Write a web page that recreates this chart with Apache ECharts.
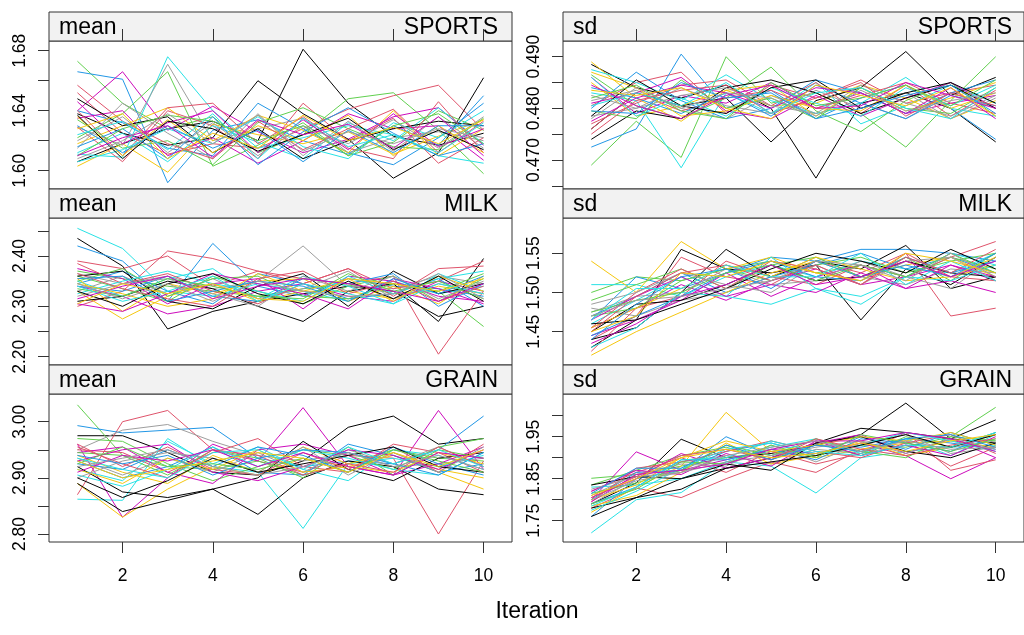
<!DOCTYPE html>
<html><head><meta charset="utf-8">
<script src="https://cdn.jsdelivr.net/npm/echarts@6/dist/echarts.min.js"></script>
<style>html,body{margin:0;padding:0;background:#fff}#c{width:1024px;height:635px}</style>
</head><body><div id="c"></div>
<script>
const iterations = [1,2,3,4,5,6,7,8,9,10];
const chainColors = ['#000000','#DF536B','#61D04F','#2297E6','#28E2E5','#CD0BBC','#F5C710','#9E9E9E'];
const xTicks = [2,4,6,8,10];

const meanSports = [
[1.606,1.618,1.628,1.633,1.620,1.681,1.645,1.623,1.617,1.625],
[1.652,1.625,1.611,1.618,1.615,1.628,1.641,1.650,1.657,1.627],
[1.673,1.645,1.628,1.636,1.612,1.624,1.648,1.652,1.627,1.598],
[1.666,1.661,1.592,1.627,1.634,1.620,1.611,1.630,1.617,1.650],
[1.611,1.609,1.676,1.640,1.615,1.622,1.630,1.624,1.610,1.605],
[1.640,1.666,1.627,1.643,1.626,1.612,1.621,1.636,1.642,1.617],
[1.603,1.618,1.599,1.631,1.624,1.618,1.626,1.611,1.623,1.634],
[1.629,1.617,1.671,1.620,1.628,1.635,1.612,1.622,1.626,1.620],
[1.638,1.625,1.617,1.622,1.660,1.638,1.621,1.595,1.612,1.662],
[1.629,1.606,1.640,1.630,1.608,1.645,1.620,1.635,1.605,1.622],
[1.622,1.638,1.666,1.603,1.617,1.632,1.610,1.619,1.640,1.627],
[1.640,1.632,1.615,1.610,1.645,1.628,1.612,1.604,1.622,1.645],
[1.612,1.625,1.606,1.630,1.619,1.608,1.632,1.620,1.642,1.618],
[1.635,1.640,1.610,1.622,1.605,1.620,1.638,1.628,1.630,1.607],
[1.618,1.630,1.642,1.620,1.637,1.627,1.612,1.640,1.610,1.628],
[1.615,1.645,1.625,1.608,1.638,1.610,1.633,1.613,1.636,1.615],
[1.648,1.630,1.636,1.612,1.628,1.608,1.620,1.628,1.633,1.630],
[1.640,1.610,1.642,1.645,1.618,1.636,1.615,1.608,1.646,1.612],
[1.634,1.615,1.620,1.604,1.632,1.642,1.628,1.616,1.614,1.635],
[1.616,1.628,1.608,1.636,1.604,1.626,1.642,1.625,1.610,1.618],
[1.606,1.614,1.628,1.618,1.636,1.616,1.608,1.632,1.622,1.640],
[1.646,1.618,1.632,1.640,1.612,1.634,1.614,1.638,1.616,1.628],
[1.636,1.610,1.634,1.612,1.630,1.620,1.637,1.610,1.630,1.612],
[1.620,1.636,1.612,1.632,1.610,1.630,1.618,1.634,1.615,1.636],
[1.637,1.608,1.633,1.628,1.613,1.624,1.635,1.614,1.627,1.614],
[1.657,1.633,1.618,1.608,1.633,1.614,1.628,1.641,1.612,1.633],
[1.610,1.628,1.637,1.633,1.620,1.630,1.610,1.630,1.638,1.618],
[1.630,1.612,1.630,1.615,1.627,1.606,1.627,1.612,1.630,1.630],
[1.624,1.633,1.614,1.638,1.608,1.635,1.616,1.624,1.612,1.632],
[1.610,1.622,1.630,1.609,1.634,1.624,1.631,1.615,1.636,1.610],
[1.628,1.638,1.608,1.625,1.615,1.637,1.620,1.629,1.618,1.634],
[1.608,1.620,1.638,1.618,1.637,1.613,1.626,1.618,1.628,1.622]
];
const sdSports = [
[0.4885,0.4840,0.4820,0.4845,0.4800,0.4665,0.4810,0.4830,0.4800,0.4735],
[0.4805,0.4850,0.4870,0.4790,0.4845,0.4820,0.4855,0.4810,0.4830,0.4845],
[0.4690,0.4775,0.4705,0.4900,0.4810,0.4830,0.4790,0.4725,0.4815,0.4900],
[0.4725,0.4760,0.4905,0.4800,0.4835,0.4780,0.4820,0.4845,0.4800,0.4740],
[0.4830,0.4815,0.4685,0.4830,0.4790,0.4850,0.4770,0.4805,0.4845,0.4810],
[0.4860,0.4790,0.4825,0.4810,0.4850,0.4800,0.4830,0.4790,0.4810,0.4825],
[0.4890,0.4820,0.4775,0.4835,0.4805,0.4810,0.4845,0.4820,0.4780,0.4815],
[0.4815,0.4835,0.4800,0.4780,0.4825,0.4790,0.4810,0.4780,0.4830,0.4800],
[0.4760,0.4830,0.4805,0.4820,0.4735,0.4815,0.4840,0.4910,0.4825,0.4860],
[0.4770,0.4810,0.4845,0.4855,0.4805,0.4850,0.4790,0.4845,0.4785,0.4835],
[0.4865,0.4805,0.4780,0.4820,0.4880,0.4795,0.4755,0.4815,0.4850,0.4785],
[0.4800,0.4870,0.4815,0.4780,0.4800,0.4855,0.4830,0.4790,0.4830,0.4855],
[0.4875,0.4850,0.4815,0.4865,0.4815,0.4790,0.4810,0.4860,0.4800,0.4785],
[0.4810,0.4830,0.4860,0.4795,0.4780,0.4825,0.4785,0.4820,0.4850,0.4800],
[0.4850,0.4785,0.4805,0.4835,0.4845,0.4785,0.4840,0.4795,0.4820,0.4850],
[0.4785,0.4800,0.4840,0.4805,0.4790,0.4835,0.4800,0.4830,0.4780,0.4820],
[0.4740,0.4795,0.4780,0.4840,0.4855,0.4830,0.4790,0.4820,0.4845,0.4800],
[0.4760,0.4830,0.4795,0.4820,0.4835,0.4800,0.4825,0.4850,0.4810,0.4790],
[0.4795,0.4780,0.4855,0.4800,0.4820,0.4780,0.4840,0.4800,0.4790,0.4840],
[0.4840,0.4820,0.4790,0.4830,0.4785,0.4845,0.4810,0.4780,0.4825,0.4805],
[0.4860,0.4785,0.4820,0.4785,0.4840,0.4810,0.4785,0.4840,0.4805,0.4845],
[0.4775,0.4820,0.4845,0.4830,0.4800,0.4840,0.4830,0.4790,0.4840,0.4780],
[0.4870,0.4840,0.4785,0.4795,0.4825,0.4800,0.4795,0.4845,0.4800,0.4830],
[0.4825,0.4800,0.4825,0.4840,0.4805,0.4790,0.4845,0.4810,0.4785,0.4825],
[0.4785,0.4855,0.4805,0.4790,0.4840,0.4855,0.4800,0.4830,0.4850,0.4810],
[0.4750,0.4815,0.4835,0.4845,0.4790,0.4820,0.4850,0.4785,0.4830,0.4805],
[0.4820,0.4845,0.4795,0.4780,0.4850,0.4805,0.4820,0.4845,0.4805,0.4855],
[0.4795,0.4790,0.4850,0.4820,0.4830,0.4780,0.4800,0.4825,0.4845,0.4790],
[0.4805,0.4830,0.4805,0.4850,0.4790,0.4830,0.4840,0.4800,0.4780,0.4840],
[0.4845,0.4805,0.4780,0.4825,0.4845,0.4800,0.4805,0.4850,0.4825,0.4800],
[0.4835,0.4825,0.4840,0.4800,0.4780,0.4845,0.4825,0.4805,0.4840,0.4785],
[0.4780,0.4840,0.4800,0.4830,0.4820,0.4785,0.4835,0.4795,0.4815,0.4830]
];
const meanMilk = [
[2.435,2.380,2.255,2.290,2.310,2.325,2.340,2.330,2.280,2.300],
[2.300,2.330,2.410,2.395,2.370,2.355,2.345,2.360,2.205,2.330],
[2.370,2.355,2.340,2.330,2.320,2.335,2.345,2.325,2.330,2.260],
[2.420,2.390,2.310,2.425,2.340,2.320,2.355,2.340,2.335,2.320],
[2.455,2.415,2.330,2.320,2.345,2.330,2.310,2.350,2.325,2.340],
[2.340,2.320,2.285,2.300,2.330,2.345,2.320,2.310,2.350,2.330],
[2.330,2.275,2.320,2.345,2.310,2.330,2.330,2.315,2.340,2.325],
[2.365,2.345,2.360,2.335,2.350,2.420,2.340,2.335,2.360,2.345],
[2.310,2.320,2.350,2.335,2.300,2.270,2.330,2.345,2.270,2.395],
[2.390,2.375,2.400,2.340,2.370,2.345,2.375,2.335,2.350,2.390],
[2.360,2.335,2.310,2.360,2.330,2.305,2.340,2.360,2.310,2.355],
[2.345,2.370,2.330,2.305,2.365,2.345,2.315,2.325,2.355,2.300],
[2.350,2.320,2.355,2.375,2.315,2.360,2.340,2.305,2.365,2.330],
[2.375,2.355,2.305,2.345,2.355,2.295,2.360,2.350,2.320,2.310],
[2.355,2.290,2.345,2.325,2.350,2.355,2.310,2.340,2.305,2.360],
[2.330,2.360,2.325,2.355,2.315,2.335,2.370,2.315,2.345,2.325],
[2.360,2.370,2.310,2.295,2.340,2.365,2.300,2.370,2.325,2.345],
[2.385,2.345,2.365,2.330,2.305,2.345,2.375,2.320,2.375,2.380],
[2.350,2.375,2.320,2.355,2.360,2.320,2.315,2.345,2.330,2.365],
[2.340,2.330,2.360,2.320,2.310,2.355,2.345,2.365,2.300,2.345],
[2.325,2.350,2.370,2.345,2.330,2.310,2.360,2.325,2.355,2.370],
[2.305,2.290,2.325,2.365,2.345,2.325,2.295,2.355,2.335,2.305],
[2.345,2.325,2.300,2.315,2.365,2.330,2.355,2.310,2.360,2.330],
[2.320,2.345,2.355,2.325,2.300,2.360,2.330,2.360,2.315,2.350],
[2.330,2.300,2.345,2.365,2.325,2.305,2.350,2.315,2.360,2.310],
[2.365,2.335,2.315,2.300,2.355,2.370,2.325,2.350,2.310,2.340],
[2.335,2.320,2.355,2.340,2.320,2.315,2.365,2.330,2.350,2.315],
[2.355,2.360,2.310,2.330,2.350,2.340,2.310,2.355,2.325,2.360],
[2.340,2.310,2.330,2.360,2.310,2.345,2.325,2.305,2.345,2.325],
[2.315,2.340,2.360,2.315,2.340,2.355,2.345,2.330,2.310,2.345],
[2.305,2.345,2.325,2.345,2.315,2.310,2.355,2.345,2.330,2.355],
[2.345,2.315,2.345,2.310,2.350,2.330,2.320,2.325,2.365,2.315]
];
const sdMilk = [
[1.430,1.465,1.555,1.530,1.525,1.535,1.465,1.530,1.510,1.545],
[1.440,1.470,1.545,1.520,1.510,1.540,1.525,1.550,1.470,1.480],
[1.500,1.520,1.515,1.530,1.540,1.525,1.535,1.520,1.545,1.530],
[1.465,1.520,1.505,1.525,1.545,1.540,1.555,1.555,1.550,1.540],
[1.510,1.510,1.495,1.520,1.535,1.520,1.540,1.530,1.525,1.550],
[1.455,1.480,1.510,1.490,1.515,1.530,1.510,1.520,1.535,1.515],
[1.540,1.500,1.565,1.530,1.545,1.525,1.515,1.540,1.520,1.535],
[1.480,1.470,1.490,1.500,1.520,1.545,1.520,1.510,1.530,1.525],
[1.440,1.455,1.500,1.555,1.520,1.540,1.530,1.560,1.505,1.520],
[1.425,1.480,1.495,1.540,1.520,1.510,1.535,1.520,1.545,1.565],
[1.490,1.510,1.530,1.505,1.535,1.545,1.520,1.545,1.515,1.550],
[1.470,1.495,1.525,1.500,1.520,1.535,1.550,1.530,1.545,1.525],
[1.460,1.490,1.520,1.495,1.545,1.505,1.485,1.520,1.550,1.535],
[1.445,1.465,1.490,1.525,1.495,1.520,1.535,1.505,1.515,1.500],
[1.420,1.450,1.475,1.500,1.525,1.540,1.520,1.535,1.545,1.520],
[1.475,1.495,1.500,1.530,1.510,1.515,1.540,1.520,1.505,1.545],
[1.450,1.485,1.490,1.510,1.535,1.515,1.520,1.540,1.525,1.520],
[1.455,1.500,1.530,1.505,1.540,1.530,1.510,1.550,1.520,1.515],
[1.470,1.480,1.515,1.530,1.515,1.535,1.545,1.525,1.540,1.550],
[1.445,1.470,1.495,1.525,1.540,1.520,1.515,1.545,1.525,1.540],
[1.430,1.455,1.500,1.495,1.485,1.505,1.495,1.520,1.515,1.535],
[1.465,1.495,1.520,1.495,1.510,1.500,1.525,1.505,1.535,1.520],
[1.455,1.480,1.505,1.535,1.520,1.545,1.530,1.515,1.520,1.545],
[1.485,1.500,1.525,1.510,1.500,1.535,1.510,1.540,1.545,1.515],
[1.460,1.465,1.485,1.505,1.530,1.550,1.540,1.525,1.555,1.530],
[1.450,1.495,1.525,1.535,1.515,1.535,1.510,1.545,1.525,1.555],
[1.475,1.490,1.500,1.525,1.535,1.515,1.535,1.520,1.550,1.525],
[1.440,1.485,1.520,1.530,1.505,1.540,1.520,1.535,1.520,1.550],
[1.465,1.505,1.505,1.535,1.520,1.520,1.550,1.510,1.540,1.515],
[1.435,1.460,1.495,1.510,1.535,1.510,1.520,1.540,1.520,1.540],
[1.450,1.470,1.525,1.520,1.540,1.525,1.515,1.550,1.540,1.525],
[1.470,1.490,1.495,1.505,1.515,1.540,1.535,1.515,1.550,1.520]
];
const meanGrain = [
[2.975,2.975,2.945,2.910,2.905,2.930,2.990,3.010,2.960,2.970],
[2.870,3.000,3.020,2.950,2.930,2.910,2.940,2.935,2.800,2.930],
[3.030,2.940,2.920,2.915,2.930,2.905,2.925,2.950,2.935,2.930],
[2.993,2.980,2.985,2.990,2.935,2.920,2.930,2.925,2.950,3.010],
[2.862,2.860,2.970,2.920,2.910,2.810,2.925,2.935,2.920,2.940],
[2.960,2.830,2.900,2.960,2.930,3.025,2.920,2.905,3.020,2.915],
[2.890,2.830,2.880,2.920,2.905,2.935,2.920,2.940,2.910,2.880],
[2.950,2.985,2.995,2.965,2.940,2.930,2.945,2.920,2.925,2.935],
[2.890,2.840,2.860,2.880,2.835,2.900,2.930,2.920,2.880,2.870],
[2.950,2.945,2.910,2.945,2.970,2.920,2.910,2.960,2.945,2.910],
[2.970,2.965,2.925,2.895,2.920,2.950,2.940,2.915,2.955,2.970],
[2.930,2.900,2.920,2.955,2.910,2.905,2.960,2.940,2.910,2.925],
[2.915,2.895,2.965,2.925,2.955,2.915,2.895,2.950,2.940,2.915],
[2.945,2.955,2.910,2.890,2.950,2.960,2.940,2.905,2.925,2.955],
[2.940,2.910,2.890,2.940,2.910,2.955,2.925,2.945,2.915,2.900],
[2.935,2.905,2.935,2.910,2.945,2.910,2.950,2.925,2.955,2.920],
[2.920,2.875,2.865,2.880,2.900,2.965,2.915,2.895,2.935,2.945],
[2.960,2.920,2.955,2.915,2.905,2.945,2.915,2.955,2.910,2.960],
[2.945,2.940,2.905,2.950,2.935,2.900,2.955,2.905,2.950,2.935],
[2.925,2.915,2.950,2.920,2.955,2.940,2.910,2.955,2.925,2.905],
[2.905,2.885,2.915,2.955,2.920,2.950,2.935,2.915,2.905,2.945],
[2.930,2.950,2.960,2.910,2.895,2.920,2.950,2.940,2.915,2.950],
[2.915,2.890,2.935,2.915,2.950,2.910,2.920,2.910,2.945,2.925],
[2.900,2.930,2.945,2.935,2.910,2.955,2.905,2.945,2.910,2.955],
[2.900,2.865,2.895,2.935,2.910,2.925,2.940,2.955,2.920,2.910],
[2.955,2.925,2.900,2.950,2.940,2.905,2.925,2.910,2.955,2.920],
[2.925,2.955,2.920,2.925,2.915,2.935,2.910,2.950,2.930,2.910],
[2.940,2.925,2.940,2.905,2.935,2.950,2.945,2.925,2.905,2.945],
[2.935,2.915,2.900,2.945,2.950,2.915,2.955,2.925,2.950,2.920],
[2.910,2.940,2.930,2.950,2.920,2.945,2.920,2.905,2.945,2.935],
[2.930,2.900,2.915,2.930,2.945,2.935,2.910,2.945,2.920,2.950],
[2.920,2.935,2.950,2.920,2.905,2.920,2.945,2.920,2.940,2.915]
];
const sdGrain = [
[1.790,1.840,1.944,1.900,1.910,1.930,1.955,2.030,1.945,1.935],
[1.780,1.828,1.805,1.850,1.890,1.865,1.920,1.940,1.880,1.925],
[1.851,1.860,1.880,1.900,1.915,1.905,1.930,1.925,1.950,2.020],
[1.760,1.850,1.870,1.950,1.905,1.930,1.925,1.945,1.935,1.920],
[1.721,1.800,1.817,1.890,1.880,1.816,1.900,1.915,1.925,1.930],
[1.800,1.914,1.870,1.895,1.920,1.910,1.935,1.905,1.850,1.900],
[1.770,1.830,1.880,2.008,1.915,1.900,1.920,1.935,1.940,1.925],
[1.790,1.850,1.890,1.905,1.885,1.920,1.910,1.930,1.925,1.940],
[1.780,1.805,1.850,1.875,1.900,1.935,1.970,1.960,1.945,1.990],
[1.820,1.865,1.900,1.865,1.915,1.885,1.910,1.960,1.870,1.895],
[1.835,1.870,1.905,1.925,1.895,1.935,1.905,1.950,1.925,1.960],
[1.800,1.865,1.870,1.915,1.935,1.905,1.950,1.920,1.960,1.930],
[1.830,1.835,1.850,1.890,1.925,1.945,1.910,1.945,1.905,1.955],
[1.805,1.850,1.910,1.875,1.900,1.935,1.955,1.910,1.945,1.900],
[1.785,1.810,1.865,1.935,1.885,1.905,1.940,1.905,1.925,1.955],
[1.810,1.860,1.885,1.880,1.930,1.890,1.935,1.955,1.910,1.925],
[1.835,1.855,1.850,1.885,1.870,1.935,1.950,1.915,1.900,1.935],
[1.795,1.875,1.890,1.915,1.940,1.915,1.900,1.935,1.955,1.910],
[1.815,1.840,1.870,1.930,1.905,1.945,1.915,1.900,1.950,1.940],
[1.790,1.830,1.895,1.895,1.920,1.895,1.945,1.935,1.915,1.960],
[1.775,1.820,1.875,1.920,1.935,1.910,1.930,1.960,1.940,1.915],
[1.820,1.870,1.860,1.910,1.880,1.940,1.905,1.930,1.905,1.950],
[1.800,1.835,1.900,1.940,1.915,1.930,1.950,1.940,1.960,1.930],
[1.825,1.855,1.865,1.890,1.905,1.925,1.940,1.910,1.945,1.920],
[1.760,1.805,1.825,1.875,1.890,1.905,1.930,1.955,1.925,1.955],
[1.805,1.855,1.905,1.920,1.895,1.945,1.920,1.905,1.930,1.945],
[1.790,1.825,1.890,1.885,1.930,1.900,1.955,1.935,1.915,1.945],
[1.815,1.875,1.875,1.930,1.895,1.930,1.915,1.945,1.955,1.925],
[1.785,1.830,1.895,1.900,1.940,1.915,1.905,1.930,1.925,1.960],
[1.795,1.860,1.870,1.885,1.920,1.940,1.940,1.960,1.945,1.915],
[1.810,1.850,1.900,1.920,1.900,1.910,1.935,1.915,1.940,1.955],
[1.800,1.845,1.865,1.905,1.925,1.940,1.915,1.940,1.920,1.925]
];

// y-axis ticks and labels per panel
const ticksMeanSports = [1.60,1.62,1.64,1.66,1.68];
const labelsMeanSports = [1.60,1.64,1.68];
const ticksSdSports = [0.465,0.470,0.475,0.480,0.485,0.490];
const labelsSdSports = [0.470,0.480,0.490];
const ticksMeanMilk = [2.20,2.25,2.30,2.35,2.40,2.45];
const labelsMeanMilk = [2.20,2.30,2.40];
const ticksSdMilk = [1.45,1.50,1.55];
const labelsSdMilk = [1.45,1.50,1.55];
const ticksMeanGrain = [2.80,2.85,2.90,2.95,3.00,3.05];
const labelsMeanGrain = [2.80,2.90,3.00];
const ticksSdGrain = [1.75,1.80,1.85,1.90,1.95,2.00];
const labelsSdGrain = [1.75,1.85,1.95];

const panels = [
  {stat:'mean', v:'SPORTS', data:meanSports, ticks:ticksMeanSports, labels:labelsMeanSports, dec:2, min:1.5878, max:1.6865},
  {stat:'sd',   v:'SPORTS', data:sdSports,   ticks:ticksSdSports,   labels:labelsSdSports,   dec:3, min:0.46439, max:0.49304},
  {stat:'mean', v:'MILK',   data:meanMilk,   ticks:ticksMeanMilk,   labels:labelsMeanMilk,   dec:2, min:2.1835, max:2.4755},
  {stat:'sd',   v:'MILK',   data:sdMilk,     ticks:ticksSdMilk,     labels:labelsSdMilk,     dec:2, min:1.4075, max:1.595},
  {stat:'mean', v:'GRAIN',  data:meanGrain,  ticks:ticksMeanGrain,  labels:labelsMeanGrain,  dec:2, min:2.7858, max:3.0493},
  {stat:'sd',   v:'GRAIN',  data:sdGrain,    ticks:ticksSdGrain,    labels:labelsSdGrain,    dec:2, min:1.6993, max:2.0517}
];

const FONT = '"Liberation Sans", Arial, sans-serif';
const colLeft = [49, 563];
const panelW = 463;
const rowTop = [41, 218, 394];
const rowH = [148, 147, 148];
const stripH = 29;
const XMIN = 0.37, XMAX = 10.63;
const border = '#333333';

const grid = [], xAxis = [], yAxis = [], series = [], graphic = [];

panels.forEach((p, i) => {
  const row = Math.floor(i / 2), col = i % 2;
  const L = colLeft[col], T = rowTop[row], H = rowH[row];
  const gi = grid.length;
  grid.push({left: L, top: T, width: panelW, height: H, show: true,
    borderColor: border, borderWidth: 1, backgroundColor: 'transparent', containLabel: false});
  xAxis.push({gridIndex: gi, type: 'value', min: XMIN, max: XMAX,
    show: row === 2, position: 'bottom',
    axisLine: {show: false}, splitLine: {show: false},
    axisTick: {show: true, customValues: xTicks, length: 11, lineStyle: {color: border, width: 1}},
    axisLabel: {show: true, customValues: xTicks, margin: 25, fontSize: 17.5, fontFamily: FONT, color: '#000'}
  });
  yAxis.push({gridIndex: gi, type: 'value', min: p.min, max: p.max, position: 'left',
    axisLine: {show: false}, splitLine: {show: false},
    axisTick: {show: true, customValues: p.ticks, length: 11, lineStyle: {color: border, width: 1}},
    axisLabel: {show: true, customValues: p.labels, rotate: 90, margin: 20, fontSize: 17.5,
      fontFamily: FONT, color: '#000', formatter: (v) => Number(v).toFixed(p.dec)}
  });
  p.data.forEach((chain, k) => {
    series.push({type: 'line', xAxisIndex: gi, yAxisIndex: gi,
      data: iterations.map((it, j) => [it, chain[j]]),
      symbol: 'none', silent: true, animation: false, clip: true,
      lineStyle: {color: chainColors[k % chainColors.length], width: 1}
    });
  });
  const si = grid.length;
  grid.push({left: L, top: T - stripH, width: panelW, height: stripH, show: true,
    borderColor: border, borderWidth: 1, backgroundColor: '#f2f2f2'});
  xAxis.push({gridIndex: si, type: 'value', min: XMIN, max: XMAX,
    show: row === 0, position: 'top',
    axisLine: {show: false}, splitLine: {show: false},
    axisTick: {show: true, customValues: xTicks, length: 12, lineStyle: {color: border, width: 1}},
    axisLabel: {show: false}
  });
  yAxis.push({gridIndex: si, type: 'value', show: false, min: 0, max: 1});
  graphic.push({type: 'text', x: L + 10, y: T - stripH / 2 + 1,
    style: {text: p.stat, font: '23px ' + FONT, fill: '#000', align: 'left', verticalAlign: 'middle'}});
  graphic.push({type: 'text', x: L + panelW - 14, y: T - stripH / 2 + 1,
    style: {text: p.v, font: '23px ' + FONT, fill: '#000', align: 'right', verticalAlign: 'middle'}});
});

graphic.push({type: 'text', x: 537, y: 612,
  style: {text: 'Iteration', font: '23px ' + FONT, fill: '#000', align: 'center', verticalAlign: 'middle'}});

const chart = echarts.init(document.getElementById('c'), null, {renderer: 'canvas'});
chart.setOption({animation: false, backgroundColor: '#fff', grid, xAxis, yAxis, series, graphic});
</script></body></html>
